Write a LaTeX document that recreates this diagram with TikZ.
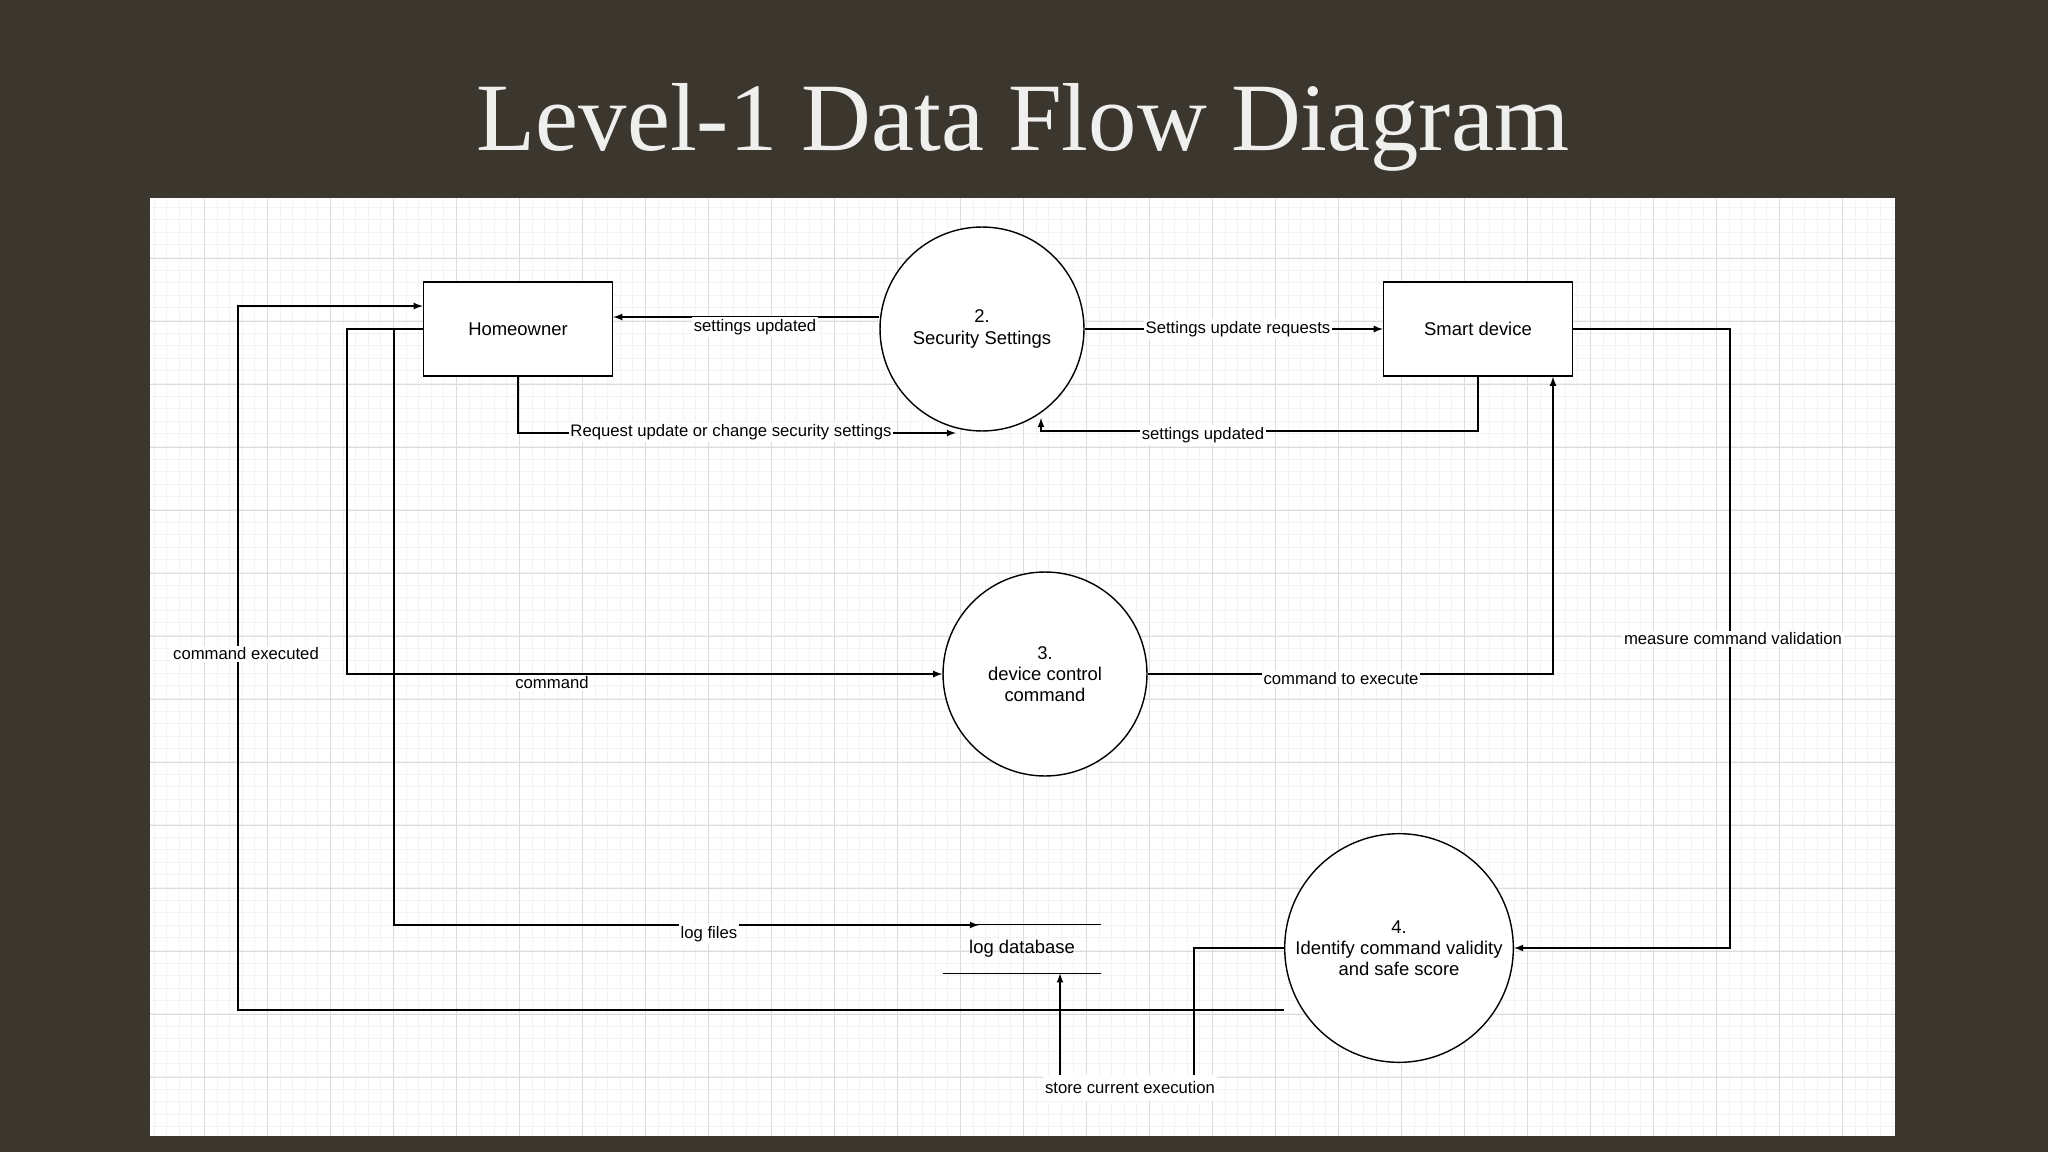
\documentclass[tikz,border=0pt]{standalone}
\usepackage{fontspec}
\setmainfont{Liberation Sans}
\newfontfamily\titlefont{Liberation Serif}
\usetikzlibrary{shapes,arrows,positioning,calc}
\definecolor{slate}{HTML}{3B372F}
\definecolor{gridminor}{HTML}{F3F3F3}
\definecolor{gridmajor}{HTML}{DCDCDC}
\tikzset{
  entity/.style={draw, thick, fill=white, minimum width=3.78cm, minimum height=1.88cm, font=\fontsize{10.5}{12}\selectfont},
  process/.style={draw, thick, circle, fill=white, align=center, font=\fontsize{10.5}{12}\selectfont},
  flow/.style={thick, -latex},
  lbl/.style={fill=white, inner sep=1pt, font=\fontsize{9.5}{11}\selectfont}
}
\begin{document}
\begin{tikzpicture}[x=0.02cm, y=-0.02cm]
\useasboundingbox (0,0) rectangle (2048,1152);
% Background and canvas
\fill[slate] (0,0) rectangle (2048,1152);
\fill[white] (150,198) rectangle (1895,1136);
\foreach \x in {154,166.6,...,1895} \draw[gridminor] (\x,198) -- (\x,1136);
\foreach \y in {207,219.6,...,1136} \draw[gridminor] (150,\y) -- (1895,\y);
\foreach \x in {204,267,...,1895} \draw[gridmajor] (\x,198) -- (\x,1136);
\foreach \y in {258,321,...,1136} \draw[gridmajor] (150,\y) -- (1895,\y);

\node[text=white!92!slate, font=\titlefont\fontsize{55}{60}\selectfont] (title) at (1023,127) {Level-1 Data Flow Diagram};

% Entities and processes
\node[entity] (home) at (518,329) {Homeowner};
\node[entity] (smart) at (1478,329) {Smart device};
\node[process, minimum size=4.08cm] (sec) at (982,329) {2.\\Security Settings};
\node[process, minimum size=4.08cm] (ctrl) at (1045,674) {3.\\device control\\command};
\node[process, minimum size=4.36cm] (valid) at (1399,948) {4.\\Identify command validity\\and safe score};

% Data store
\node[font=\fontsize{10.5}{12}\selectfont, minimum width=3.16cm, minimum height=0.96cm] (logdb) at (1022,949) {log database};
\draw[thick] (logdb.north west) -- (logdb.north east);
\draw[thick] (logdb.south west) -- (logdb.south east);

% Flows
\draw[flow] (sec.west |- 0,317) -- (home.east |- 0,317);
\node[lbl] at (755,327) {settings updated};
\draw[flow] (home.south) |- (956,433);
\node[lbl] at (731,432) {Request update or change security settings};
\draw[flow] (sec.east) -- (smart.west);
\node[lbl] at (1238,329) {Settings update requests};
\draw[flow] (smart.south) |- (1041,431) -- (1041,418);
\node[lbl] at (1203,435) {settings updated};
\draw[flow] (home.west) -| (347,674) -- (ctrl.west);
\node[lbl] at (552,683) {command};
\draw[flow] (ctrl.east) -| (smart.south -| 1553,0);
\node[lbl] at (1341,679) {command to execute};
\draw[flow] (smart.east) -| (1730,948) -- (valid.east);
\node[lbl] at (1733,639) {measure command validation};
\draw[flow] ($(valid.west)+(0,62)$) -| (238,306) -- (home.west |- 0,306);
\node[lbl] at (246,654) {command executed};
\draw[flow] (394,329) |- (979,925);
\node[lbl] at (709,934) {log files};
\draw[flow] (valid.west) -| (1194,1088) -| (logdb.south -| 1060,0);
\node[lbl, inner ysep=4pt] at (1130,1088) {store current execution};
\end{tikzpicture}
\end{document}
